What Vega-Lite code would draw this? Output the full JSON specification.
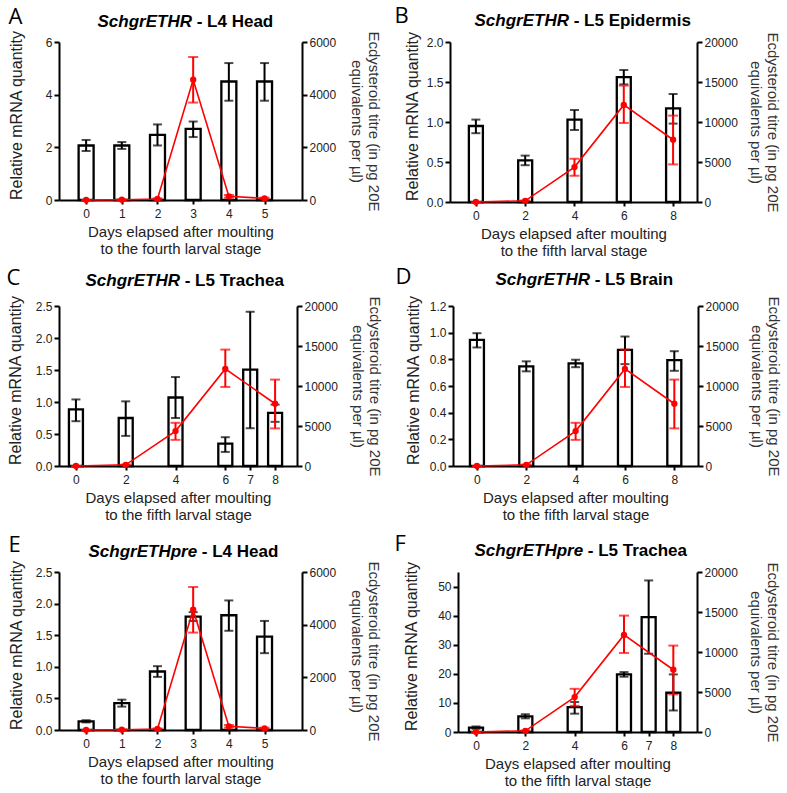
{
"$schema": "https://vega.github.io/schema/vega-lite/v6.json",
"padding": {"left": 6, "top": 4, "right": 5, "bottom": 0},
"config": {
 "view": {"stroke": null},
 "font": "Liberation Sans",
 "axis": {"grid": false, "domainColor": "black", "domainWidth": 2, "tickColor": "black", "tickWidth": 2, "labelFont": "Liberation Sans", "labelFontSize": 12, "labelColor": "#222", "titleFont": "Liberation Sans", "titleFontSize": 15, "titleFontWeight": "normal", "titleColor": "#222", "labelFlush": false, "labelOverlap": false},
 "axisX": {"tickSize": 4, "labelPadding": 4, "labelAngle": 0},
 "axisY": {"tickSize": 5, "labelPadding": 2}
},
"datasets": {
 "mrnaA": [{"day":0,"mean":2.07,"lo":1.86,"hi":2.28},{"day":1,"mean":2.07,"lo":1.94,"hi":2.2},{"day":2,"mean":2.47,"lo":2.07,"hi":2.87},{"day":3,"mean":2.7,"lo":2.39,"hi":2.98},{"day":4,"mean":4.5,"lo":3.77,"hi":5.2},{"day":5,"mean":4.5,"lo":3.77,"hi":5.2}],
 "ecdL4": [{"day":0,"mean":0,"lo":0,"hi":0},{"day":1,"mean":10,"lo":0,"hi":20},{"day":2,"mean":40,"lo":20,"hi":60},{"day":3,"mean":4570,"lo":3700,"hi":5430},{"day":4,"mean":140,"lo":90,"hi":190},{"day":5,"mean":60,"lo":30,"hi":90}],
 "mrnaB": [{"day":0,"mean":0.95,"lo":0.86,"hi":1.03},{"day":2,"mean":0.52,"lo":0.46,"hi":0.58},{"day":4,"mean":1.03,"lo":0.9,"hi":1.15},{"day":6,"mean":1.56,"lo":1.47,"hi":1.65},{"day":8,"mean":1.17,"lo":0.98,"hi":1.35}],
 "ecdL5": [{"day":0,"mean":0,"lo":0,"hi":0},{"day":2,"mean":150,"lo":110,"hi":190},{"day":4,"mean":4370,"lo":3270,"hi":5400},{"day":6,"mean":12140,"lo":9880,"hi":14550},{"day":8,"mean":7780,"lo":4700,"hi":10800}],
 "mrnaC": [{"day":0,"mean":0.885,"lo":0.7,"hi":1.04},{"day":2,"mean":0.75,"lo":0.47,"hi":1.01},{"day":4,"mean":1.07,"lo":0.75,"hi":1.39},{"day":6,"mean":0.35,"lo":0.22,"hi":0.45},{"day":7,"mean":1.505,"lo":0.59,"hi":2.41},{"day":8,"mean":0.83,"lo":0.69,"hi":0.96}],
 "mrnaD": [{"day":0,"mean":0.946,"lo":0.889,"hi":0.996},{"day":2,"mean":0.747,"lo":0.71,"hi":0.785},{"day":4,"mean":0.769,"lo":0.741,"hi":0.797},{"day":6,"mean":0.871,"lo":0.764,"hi":0.971},{"day":8,"mean":0.794,"lo":0.714,"hi":0.861}],
 "mrnaE": [{"day":0,"mean":0.137,"lo":0.12,"hi":0.155},{"day":1,"mean":0.426,"lo":0.37,"hi":0.48},{"day":2,"mean":0.926,"lo":0.84,"hi":1.01},{"day":3,"mean":1.795,"lo":1.725,"hi":1.865},{"day":4,"mean":1.816,"lo":1.57,"hi":2.05},{"day":5,"mean":1.479,"lo":1.216,"hi":1.726}],
 "mrnaF": [{"day":0,"mean":1.49,"lo":1.1,"hi":1.9},{"day":2,"mean":5.38,"lo":4.7,"hi":6.1},{"day":4,"mean":8.58,"lo":6.3,"hi":10.3},{"day":6,"mean":19.8,"lo":19.0,"hi":20.6},{"day":7,"mean":39.5,"lo":26.9,"hi":52.1},{"day":8,"mean":13.5,"lo":7.4,"hi":19.8}]
},
"spacing": 7,
"vconcat": [
{"spacing": 14, "hconcat": [
 {"width": 243, "height": 158,
  "resolve": {"scale": {"y": "independent"}, "axis": {"x": "independent", "y": "independent"}},
  "layer": [
   {"data": {"name": "mrnaA"}, "mark": {"type": "bar", "orient": "vertical", "fill": "white", "stroke": "black", "strokeWidth": 2.3, "width": 15},
    "encoding": {
     "x": {"field": "day", "type": "quantitative", "scale": {"domain": [-0.76, 6.05], "nice": false, "zero": false, "padding": 0}, "axis": {"values": [0,1,2,3,4,5], "format": "d", "title": ["Days elapsed after moulting", "to the fourth larval stage"], "titleY": 36, "titleBaseline": "alphabetic", "titleLineHeight": 17}},
     "y": {"field": "mean", "type": "quantitative", "scale": {"domain": [0, 6], "nice": false}, "axis": {"orient": "left", "values": [0,2,4,6], "format": "d", "title": "Relative mRNA quantity", "titleFontSize": 16, "titleX": -38, "titleY": 73, "titleBaseline": "alphabetic", "titleAngle": -90, "titleAlign": "center"}}}},
   {"data": {"name": "mrnaA"}, "mark": {"type": "rule", "color": "black", "strokeWidth": 2},
    "encoding": {
     "x": {"field": "day", "type": "quantitative", "scale": {"domain": [-0.76, 6.05], "nice": false, "zero": false, "padding": 0}, "axis": {"orient": "top", "domain": false, "ticks": false, "labels": false, "title": "A", "titleX": -51, "titleY": -19, "titleAlign": "left", "titleBaseline": "alphabetic", "titleFont": "Open Sans", "titleFontSize": 22, "titleColor": "black"}},
     "y": {"field": "lo", "type": "quantitative", "scale": {"domain": [0, 6], "nice": false}, "axis": null},
     "y2": {"field": "hi"}}},
   {"data": {"name": "mrnaA"}, "mark": {"type": "tick", "orient": "horizontal", "color": "black", "thickness": 2, "size": 9},
    "encoding": {"x": {"field": "day", "type": "quantitative", "scale": {"domain": [-0.76, 6.05], "nice": false, "zero": false, "padding": 0}, "axis": null}, "y": {"field": "hi", "type": "quantitative", "scale": {"domain": [0, 6], "nice": false}, "axis": null}}},
   {"data": {"name": "mrnaA"}, "mark": {"type": "tick", "orient": "horizontal", "color": "black", "thickness": 2, "size": 9},
    "encoding": {"x": {"field": "day", "type": "quantitative", "scale": {"domain": [-0.76, 6.05], "nice": false, "zero": false, "padding": 0}, "axis": null}, "y": {"field": "lo", "type": "quantitative", "scale": {"domain": [0, 6], "nice": false}, "axis": null}}},
   {"data": {"name": "ecdL4"}, "mark": {"type": "line", "color": "#ff0000", "strokeWidth": 1.6},
    "encoding": {
     "x": {"field": "day", "type": "quantitative", "scale": {"domain": [-0.76, 6.05], "nice": false, "zero": false, "padding": 0}, "axis": {"orient": "top", "domain": false, "ticks": false, "labels": false, "title": "SchgrETHR", "titleX": 38, "titleY": -16, "titleAlign": "left", "titleBaseline": "alphabetic", "titleFontSize": 17, "titleFontWeight": "bold", "titleFontStyle": "italic", "titleColor": "black"}},
     "y": {"field": "mean", "type": "quantitative", "scale": {"domain": [0, 6000], "nice": false}, "axis": {"orient": "right", "values": [0,2000,4000,6000], "format": "d", "title": ["Ecdysteroid titre (in pg 20E", "equivalents per µl)"], "titleX": 66, "titleBaseline": "alphabetic", "titleAngle": 90, "titleLineHeight": 17, "titleColor": "#333"}}}},
   {"data": {"name": "ecdL4"}, "mark": {"type": "circle", "color": "#ff0000", "size": 40, "opacity": 1},
    "encoding": {
     "x": {"field": "day", "type": "quantitative", "scale": {"domain": [-0.76, 6.05], "nice": false, "zero": false, "padding": 0}, "axis": {"orient": "top", "domain": false, "ticks": false, "labels": false, "title": "- L4 Head", "titleX": 137.2, "titleY": -16, "titleAlign": "left", "titleBaseline": "alphabetic", "titleFontSize": 17, "titleFontWeight": "bold", "titleColor": "black"}},
     "y": {"field": "mean", "type": "quantitative", "scale": {"domain": [0, 6000], "nice": false}, "axis": null}}},
   {"data": {"name": "ecdL4"}, "mark": {"type": "rule", "color": "#ff0000", "strokeWidth": 2},
    "encoding": {"x": {"field": "day", "type": "quantitative", "scale": {"domain": [-0.76, 6.05], "nice": false, "zero": false, "padding": 0}, "axis": null}, "y": {"field": "lo", "type": "quantitative", "scale": {"domain": [0, 6000], "nice": false}, "axis": null}, "y2": {"field": "hi"}}},
   {"data": {"name": "ecdL4"}, "mark": {"type": "tick", "orient": "horizontal", "color": "#ff0000", "thickness": 2, "size": 10},
    "encoding": {"x": {"field": "day", "type": "quantitative", "scale": {"domain": [-0.76, 6.05], "nice": false, "zero": false, "padding": 0}, "axis": null}, "y": {"field": "hi", "type": "quantitative", "scale": {"domain": [0, 6000], "nice": false}, "axis": null}}},
   {"data": {"name": "ecdL4"}, "mark": {"type": "tick", "orient": "horizontal", "color": "#ff0000", "thickness": 2, "size": 10},
    "encoding": {"x": {"field": "day", "type": "quantitative", "scale": {"domain": [-0.76, 6.05], "nice": false, "zero": false, "padding": 0}, "axis": null}, "y": {"field": "lo", "type": "quantitative", "scale": {"domain": [0, 6000], "nice": false}, "axis": null}}}
  ]},
 {"width": 247, "height": 160,
  "resolve": {"scale": {"y": "independent"}, "axis": {"x": "independent", "y": "independent"}},
  "layer": [
   {"data": {"name": "mrnaB"}, "mark": {"type": "bar", "orient": "vertical", "fill": "white", "stroke": "black", "strokeWidth": 2.3, "width": 14},
    "encoding": {
     "x": {"field": "day", "type": "quantitative", "scale": {"domain": [-1.05, 8.97], "nice": false, "zero": false, "padding": 0}, "axis": {"values": [0,2,4,6,8], "format": "d", "title": ["Days elapsed after moulting", "to the fifth larval stage"], "titleY": 36, "titleBaseline": "alphabetic", "titleLineHeight": 17}},
     "y": {"field": "mean", "type": "quantitative", "scale": {"domain": [0, 2], "nice": false}, "axis": {"orient": "left", "values": [0,0.5,1,1.5,2], "format": ".1f", "title": "Relative mRNA quantity", "titleFontSize": 16, "titleX": -33, "titleY": 74, "titleBaseline": "alphabetic", "titleAngle": -90, "titleAlign": "center"}}}},
   {"data": {"name": "mrnaB"}, "mark": {"type": "rule", "color": "black", "strokeWidth": 2},
    "encoding": {
     "x": {"field": "day", "type": "quantitative", "scale": {"domain": [-1.05, 8.97], "nice": false, "zero": false, "padding": 0}, "axis": {"orient": "top", "domain": false, "ticks": false, "labels": false, "title": "B", "titleX": -56, "titleY": -20, "titleAlign": "left", "titleBaseline": "alphabetic", "titleFont": "Open Sans", "titleFontSize": 22, "titleColor": "black"}},
     "y": {"field": "lo", "type": "quantitative", "scale": {"domain": [0, 2], "nice": false}, "axis": null},
     "y2": {"field": "hi"}}},
   {"data": {"name": "mrnaB"}, "mark": {"type": "tick", "orient": "horizontal", "color": "black", "thickness": 2, "size": 9},
    "encoding": {"x": {"field": "day", "type": "quantitative", "scale": {"domain": [-1.05, 8.97], "nice": false, "zero": false, "padding": 0}, "axis": null}, "y": {"field": "hi", "type": "quantitative", "scale": {"domain": [0, 2], "nice": false}, "axis": null}}},
   {"data": {"name": "mrnaB"}, "mark": {"type": "tick", "orient": "horizontal", "color": "black", "thickness": 2, "size": 9},
    "encoding": {"x": {"field": "day", "type": "quantitative", "scale": {"domain": [-1.05, 8.97], "nice": false, "zero": false, "padding": 0}, "axis": null}, "y": {"field": "lo", "type": "quantitative", "scale": {"domain": [0, 2], "nice": false}, "axis": null}}},
   {"data": {"name": "ecdL5"}, "mark": {"type": "line", "color": "#ff0000", "strokeWidth": 1.6},
    "encoding": {
     "x": {"field": "day", "type": "quantitative", "scale": {"domain": [-1.05, 8.97], "nice": false, "zero": false, "padding": 0}, "axis": {"orient": "top", "domain": false, "ticks": false, "labels": false, "title": "SchgrETHR", "titleX": 24, "titleY": -17, "titleAlign": "left", "titleBaseline": "alphabetic", "titleFontSize": 17, "titleFontWeight": "bold", "titleFontStyle": "italic", "titleColor": "black"}},
     "y": {"field": "mean", "type": "quantitative", "scale": {"domain": [0, 20000], "nice": false}, "axis": {"orient": "right", "values": [0,5000,10000,15000,20000], "format": "d", "title": ["Ecdysteroid titre (in pg 20E", "equivalents per µl)"], "titleX": 70, "titleBaseline": "alphabetic", "titleAngle": 90, "titleLineHeight": 17, "titleColor": "#333"}}}},
   {"data": {"name": "ecdL5"}, "mark": {"type": "circle", "color": "#ff0000", "size": 40, "opacity": 1},
    "encoding": {
     "x": {"field": "day", "type": "quantitative", "scale": {"domain": [-1.05, 8.97], "nice": false, "zero": false, "padding": 0}, "axis": {"orient": "top", "domain": false, "ticks": false, "labels": false, "title": "- L5 Epidermis", "titleX": 123.2, "titleY": -17, "titleAlign": "left", "titleBaseline": "alphabetic", "titleFontSize": 17, "titleFontWeight": "bold", "titleColor": "black"}},
     "y": {"field": "mean", "type": "quantitative", "scale": {"domain": [0, 20000], "nice": false}, "axis": null}}},
   {"data": {"name": "ecdL5"}, "mark": {"type": "rule", "color": "#ff0000", "strokeWidth": 2},
    "encoding": {"x": {"field": "day", "type": "quantitative", "scale": {"domain": [-1.05, 8.97], "nice": false, "zero": false, "padding": 0}, "axis": null}, "y": {"field": "lo", "type": "quantitative", "scale": {"domain": [0, 20000], "nice": false}, "axis": null}, "y2": {"field": "hi"}}},
   {"data": {"name": "ecdL5"}, "mark": {"type": "tick", "orient": "horizontal", "color": "#ff0000", "thickness": 2, "size": 10},
    "encoding": {"x": {"field": "day", "type": "quantitative", "scale": {"domain": [-1.05, 8.97], "nice": false, "zero": false, "padding": 0}, "axis": null}, "y": {"field": "hi", "type": "quantitative", "scale": {"domain": [0, 20000], "nice": false}, "axis": null}}},
   {"data": {"name": "ecdL5"}, "mark": {"type": "tick", "orient": "horizontal", "color": "#ff0000", "thickness": 2, "size": 10},
    "encoding": {"x": {"field": "day", "type": "quantitative", "scale": {"domain": [-1.05, 8.97], "nice": false, "zero": false, "padding": 0}, "axis": null}, "y": {"field": "lo", "type": "quantitative", "scale": {"domain": [0, 20000], "nice": false}, "axis": null}}}
  ]}
]},
{"spacing": 10, "vconcat": [
{"spacing": 14, "hconcat": [
 {"width": 238, "height": 160,
  "resolve": {"scale": {"y": "independent"}, "axis": {"x": "independent", "y": "independent"}},
  "layer": [
   {"data": {"name": "mrnaC"}, "mark": {"type": "bar", "orient": "vertical", "fill": "white", "stroke": "black", "strokeWidth": 2.3, "width": 14},
    "encoding": {
     "x": {"field": "day", "type": "quantitative", "scale": {"domain": [-0.68, 8.88], "nice": false, "zero": false, "padding": 0}, "axis": {"values": [0,2,4,6,7,8], "format": "d", "title": ["Days elapsed after moulting", "to the fifth larval stage"], "titleY": 36, "titleBaseline": "alphabetic", "titleLineHeight": 17}},
     "y": {"field": "mean", "type": "quantitative", "scale": {"domain": [0, 2.5], "nice": false}, "axis": {"orient": "left", "values": [0,0.5,1,1.5,2,2.5], "format": ".1f", "title": "Relative mRNA quantity", "titleFontSize": 16, "titleX": -39, "titleY": 74, "titleBaseline": "alphabetic", "titleAngle": -90, "titleAlign": "center"}}}},
   {"data": {"name": "mrnaC"}, "mark": {"type": "rule", "color": "black", "strokeWidth": 2},
    "encoding": {
     "x": {"field": "day", "type": "quantitative", "scale": {"domain": [-0.68, 8.88], "nice": false, "zero": false, "padding": 0}, "axis": {"orient": "top", "domain": false, "ticks": false, "labels": false, "title": "C", "titleX": -53, "titleY": -22, "titleAlign": "left", "titleBaseline": "alphabetic", "titleFont": "Open Sans", "titleFontSize": 22, "titleColor": "black"}},
     "y": {"field": "lo", "type": "quantitative", "scale": {"domain": [0, 2.5], "nice": false}, "axis": null},
     "y2": {"field": "hi"}}},
   {"data": {"name": "mrnaC"}, "mark": {"type": "tick", "orient": "horizontal", "color": "black", "thickness": 2, "size": 9},
    "encoding": {"x": {"field": "day", "type": "quantitative", "scale": {"domain": [-0.68, 8.88], "nice": false, "zero": false, "padding": 0}, "axis": null}, "y": {"field": "hi", "type": "quantitative", "scale": {"domain": [0, 2.5], "nice": false}, "axis": null}}},
   {"data": {"name": "mrnaC"}, "mark": {"type": "tick", "orient": "horizontal", "color": "black", "thickness": 2, "size": 9},
    "encoding": {"x": {"field": "day", "type": "quantitative", "scale": {"domain": [-0.68, 8.88], "nice": false, "zero": false, "padding": 0}, "axis": null}, "y": {"field": "lo", "type": "quantitative", "scale": {"domain": [0, 2.5], "nice": false}, "axis": null}}},
   {"data": {"name": "ecdL5"}, "mark": {"type": "line", "color": "#ff0000", "strokeWidth": 1.6},
    "encoding": {
     "x": {"field": "day", "type": "quantitative", "scale": {"domain": [-0.68, 8.88], "nice": false, "zero": false, "padding": 0}, "axis": {"orient": "top", "domain": false, "ticks": false, "labels": false, "title": "SchgrETHR", "titleX": 26, "titleY": -21, "titleAlign": "left", "titleBaseline": "alphabetic", "titleFontSize": 17, "titleFontWeight": "bold", "titleFontStyle": "italic", "titleColor": "black"}},
     "y": {"field": "mean", "type": "quantitative", "scale": {"domain": [0, 20000], "nice": false}, "axis": {"orient": "right", "values": [0,5000,10000,15000,20000], "format": "d", "title": ["Ecdysteroid titre (in pg 20E", "equivalents per µl)"], "titleX": 72, "titleBaseline": "alphabetic", "titleAngle": 90, "titleLineHeight": 17, "titleColor": "#333"}}}},
   {"data": {"name": "ecdL5"}, "mark": {"type": "circle", "color": "#ff0000", "size": 40, "opacity": 1},
    "encoding": {
     "x": {"field": "day", "type": "quantitative", "scale": {"domain": [-0.68, 8.88], "nice": false, "zero": false, "padding": 0}, "axis": {"orient": "top", "domain": false, "ticks": false, "labels": false, "title": "- L5 Trachea", "titleX": 125.2, "titleY": -21, "titleAlign": "left", "titleBaseline": "alphabetic", "titleFontSize": 17, "titleFontWeight": "bold", "titleColor": "black"}},
     "y": {"field": "mean", "type": "quantitative", "scale": {"domain": [0, 20000], "nice": false}, "axis": null}}},
   {"data": {"name": "ecdL5"}, "mark": {"type": "rule", "color": "#ff0000", "strokeWidth": 2},
    "encoding": {"x": {"field": "day", "type": "quantitative", "scale": {"domain": [-0.68, 8.88], "nice": false, "zero": false, "padding": 0}, "axis": null}, "y": {"field": "lo", "type": "quantitative", "scale": {"domain": [0, 20000], "nice": false}, "axis": null}, "y2": {"field": "hi"}}},
   {"data": {"name": "ecdL5"}, "mark": {"type": "tick", "orient": "horizontal", "color": "#ff0000", "thickness": 2, "size": 10},
    "encoding": {"x": {"field": "day", "type": "quantitative", "scale": {"domain": [-0.68, 8.88], "nice": false, "zero": false, "padding": 0}, "axis": null}, "y": {"field": "hi", "type": "quantitative", "scale": {"domain": [0, 20000], "nice": false}, "axis": null}}},
   {"data": {"name": "ecdL5"}, "mark": {"type": "tick", "orient": "horizontal", "color": "#ff0000", "thickness": 2, "size": 10},
    "encoding": {"x": {"field": "day", "type": "quantitative", "scale": {"domain": [-0.68, 8.88], "nice": false, "zero": false, "padding": 0}, "axis": null}, "y": {"field": "lo", "type": "quantitative", "scale": {"domain": [0, 20000], "nice": false}, "axis": null}}}
  ]},
 {"width": 245, "height": 160,
  "resolve": {"scale": {"y": "independent"}, "axis": {"x": "independent", "y": "independent"}},
  "layer": [
   {"data": {"name": "mrnaD"}, "mark": {"type": "bar", "orient": "vertical", "fill": "white", "stroke": "black", "strokeWidth": 2.3, "width": 14},
    "encoding": {
     "x": {"field": "day", "type": "quantitative", "scale": {"domain": [-0.97, 8.96], "nice": false, "zero": false, "padding": 0}, "axis": {"values": [0,2,4,6,8], "format": "d", "title": ["Days elapsed after moulting", "to the fifth larval stage"], "titleY": 36, "titleBaseline": "alphabetic", "titleLineHeight": 17}},
     "y": {"field": "mean", "type": "quantitative", "scale": {"domain": [0, 1.2], "nice": false}, "axis": {"orient": "left", "values": [0,0.2,0.4,0.6,0.8,1,1.2], "format": ".1f", "title": "Relative mRNA quantity", "titleFontSize": 16, "titleX": -35, "titleY": 74, "titleBaseline": "alphabetic", "titleAngle": -90, "titleAlign": "center"}}}},
   {"data": {"name": "mrnaD"}, "mark": {"type": "rule", "color": "black", "strokeWidth": 2},
    "encoding": {
     "x": {"field": "day", "type": "quantitative", "scale": {"domain": [-0.97, 8.96], "nice": false, "zero": false, "padding": 0}, "axis": {"orient": "top", "domain": false, "ticks": false, "labels": false, "title": "D", "titleX": -58, "titleY": -23, "titleAlign": "left", "titleBaseline": "alphabetic", "titleFont": "Open Sans", "titleFontSize": 22, "titleColor": "black"}},
     "y": {"field": "lo", "type": "quantitative", "scale": {"domain": [0, 1.2], "nice": false}, "axis": null},
     "y2": {"field": "hi"}}},
   {"data": {"name": "mrnaD"}, "mark": {"type": "tick", "orient": "horizontal", "color": "black", "thickness": 2, "size": 9},
    "encoding": {"x": {"field": "day", "type": "quantitative", "scale": {"domain": [-0.97, 8.96], "nice": false, "zero": false, "padding": 0}, "axis": null}, "y": {"field": "hi", "type": "quantitative", "scale": {"domain": [0, 1.2], "nice": false}, "axis": null}}},
   {"data": {"name": "mrnaD"}, "mark": {"type": "tick", "orient": "horizontal", "color": "black", "thickness": 2, "size": 9},
    "encoding": {"x": {"field": "day", "type": "quantitative", "scale": {"domain": [-0.97, 8.96], "nice": false, "zero": false, "padding": 0}, "axis": null}, "y": {"field": "lo", "type": "quantitative", "scale": {"domain": [0, 1.2], "nice": false}, "axis": null}}},
   {"data": {"name": "ecdL5"}, "mark": {"type": "line", "color": "#ff0000", "strokeWidth": 1.6},
    "encoding": {
     "x": {"field": "day", "type": "quantitative", "scale": {"domain": [-0.97, 8.96], "nice": false, "zero": false, "padding": 0}, "axis": {"orient": "top", "domain": false, "ticks": false, "labels": false, "title": "SchgrETHR", "titleX": 42, "titleY": -22, "titleAlign": "left", "titleBaseline": "alphabetic", "titleFontSize": 17, "titleFontWeight": "bold", "titleFontStyle": "italic", "titleColor": "black"}},
     "y": {"field": "mean", "type": "quantitative", "scale": {"domain": [0, 20000], "nice": false}, "axis": {"orient": "right", "values": [0,5000,10000,15000,20000], "format": "d", "title": ["Ecdysteroid titre (in pg 20E", "equivalents per µl)"], "titleX": 70, "titleBaseline": "alphabetic", "titleAngle": 90, "titleLineHeight": 17, "titleColor": "#333"}}}},
   {"data": {"name": "ecdL5"}, "mark": {"type": "circle", "color": "#ff0000", "size": 40, "opacity": 1},
    "encoding": {
     "x": {"field": "day", "type": "quantitative", "scale": {"domain": [-0.97, 8.96], "nice": false, "zero": false, "padding": 0}, "axis": {"orient": "top", "domain": false, "ticks": false, "labels": false, "title": "- L5 Brain", "titleX": 141.2, "titleY": -22, "titleAlign": "left", "titleBaseline": "alphabetic", "titleFontSize": 17, "titleFontWeight": "bold", "titleColor": "black"}},
     "y": {"field": "mean", "type": "quantitative", "scale": {"domain": [0, 20000], "nice": false}, "axis": null}}},
   {"data": {"name": "ecdL5"}, "mark": {"type": "rule", "color": "#ff0000", "strokeWidth": 2},
    "encoding": {"x": {"field": "day", "type": "quantitative", "scale": {"domain": [-0.97, 8.96], "nice": false, "zero": false, "padding": 0}, "axis": null}, "y": {"field": "lo", "type": "quantitative", "scale": {"domain": [0, 20000], "nice": false}, "axis": null}, "y2": {"field": "hi"}}},
   {"data": {"name": "ecdL5"}, "mark": {"type": "tick", "orient": "horizontal", "color": "#ff0000", "thickness": 2, "size": 10},
    "encoding": {"x": {"field": "day", "type": "quantitative", "scale": {"domain": [-0.97, 8.96], "nice": false, "zero": false, "padding": 0}, "axis": null}, "y": {"field": "hi", "type": "quantitative", "scale": {"domain": [0, 20000], "nice": false}, "axis": null}}},
   {"data": {"name": "ecdL5"}, "mark": {"type": "tick", "orient": "horizontal", "color": "#ff0000", "thickness": 2, "size": 10},
    "encoding": {"x": {"field": "day", "type": "quantitative", "scale": {"domain": [-0.97, 8.96], "nice": false, "zero": false, "padding": 0}, "axis": null}, "y": {"field": "lo", "type": "quantitative", "scale": {"domain": [0, 20000], "nice": false}, "axis": null}}}
  ]}
]},
{"spacing": 14, "hconcat": [
 {"width": 243, "height": 158,
  "resolve": {"scale": {"y": "independent"}, "axis": {"x": "independent", "y": "independent"}},
  "layer": [
   {"data": {"name": "mrnaE"}, "mark": {"type": "bar", "orient": "vertical", "fill": "white", "stroke": "black", "strokeWidth": 2.3, "width": 15},
    "encoding": {
     "x": {"field": "day", "type": "quantitative", "scale": {"domain": [-0.76, 6.05], "nice": false, "zero": false, "padding": 0}, "axis": {"values": [0,1,2,3,4,5], "format": "d", "title": ["Days elapsed after moulting", "to the fourth larval stage"], "titleY": 36, "titleBaseline": "alphabetic", "titleLineHeight": 17}},
     "y": {"field": "mean", "type": "quantitative", "scale": {"domain": [0, 2.5], "nice": false}, "axis": {"orient": "left", "values": [0,0.5,1,1.5,2,2.5], "format": ".1f", "title": "Relative mRNA quantity", "titleFontSize": 16, "titleX": -38, "titleY": 73, "titleBaseline": "alphabetic", "titleAngle": -90, "titleAlign": "center"}}}},
   {"data": {"name": "mrnaE"}, "mark": {"type": "rule", "color": "black", "strokeWidth": 2},
    "encoding": {
     "x": {"field": "day", "type": "quantitative", "scale": {"domain": [-0.76, 6.05], "nice": false, "zero": false, "padding": 0}, "axis": {"orient": "top", "domain": false, "ticks": false, "labels": false, "title": "E", "titleX": -51, "titleY": -21, "titleAlign": "left", "titleBaseline": "alphabetic", "titleFont": "Open Sans", "titleFontSize": 22, "titleColor": "black"}},
     "y": {"field": "lo", "type": "quantitative", "scale": {"domain": [0, 2.5], "nice": false}, "axis": null},
     "y2": {"field": "hi"}}},
   {"data": {"name": "mrnaE"}, "mark": {"type": "tick", "orient": "horizontal", "color": "black", "thickness": 2, "size": 9},
    "encoding": {"x": {"field": "day", "type": "quantitative", "scale": {"domain": [-0.76, 6.05], "nice": false, "zero": false, "padding": 0}, "axis": null}, "y": {"field": "hi", "type": "quantitative", "scale": {"domain": [0, 2.5], "nice": false}, "axis": null}}},
   {"data": {"name": "mrnaE"}, "mark": {"type": "tick", "orient": "horizontal", "color": "black", "thickness": 2, "size": 9},
    "encoding": {"x": {"field": "day", "type": "quantitative", "scale": {"domain": [-0.76, 6.05], "nice": false, "zero": false, "padding": 0}, "axis": null}, "y": {"field": "lo", "type": "quantitative", "scale": {"domain": [0, 2.5], "nice": false}, "axis": null}}},
   {"data": {"name": "ecdL4"}, "mark": {"type": "line", "color": "#ff0000", "strokeWidth": 1.6},
    "encoding": {
     "x": {"field": "day", "type": "quantitative", "scale": {"domain": [-0.76, 6.05], "nice": false, "zero": false, "padding": 0}, "axis": {"orient": "top", "domain": false, "ticks": false, "labels": false, "title": "SchgrETHpre", "titleX": 29, "titleY": -16, "titleAlign": "left", "titleBaseline": "alphabetic", "titleFontSize": 17, "titleFontWeight": "bold", "titleFontStyle": "italic", "titleColor": "black"}},
     "y": {"field": "mean", "type": "quantitative", "scale": {"domain": [0, 6000], "nice": false}, "axis": {"orient": "right", "values": [0,2000,4000,6000], "format": "d", "title": ["Ecdysteroid titre (in pg 20E", "equivalents per µl)"], "titleX": 66, "titleBaseline": "alphabetic", "titleAngle": 90, "titleLineHeight": 17, "titleColor": "#333"}}}},
   {"data": {"name": "ecdL4"}, "mark": {"type": "circle", "color": "#ff0000", "size": 40, "opacity": 1},
    "encoding": {
     "x": {"field": "day", "type": "quantitative", "scale": {"domain": [-0.76, 6.05], "nice": false, "zero": false, "padding": 0}, "axis": {"orient": "top", "domain": false, "ticks": false, "labels": false, "title": "- L4 Head", "titleX": 142.3, "titleY": -16, "titleAlign": "left", "titleBaseline": "alphabetic", "titleFontSize": 17, "titleFontWeight": "bold", "titleColor": "black"}},
     "y": {"field": "mean", "type": "quantitative", "scale": {"domain": [0, 6000], "nice": false}, "axis": null}}},
   {"data": {"name": "ecdL4"}, "mark": {"type": "rule", "color": "#ff0000", "strokeWidth": 2},
    "encoding": {"x": {"field": "day", "type": "quantitative", "scale": {"domain": [-0.76, 6.05], "nice": false, "zero": false, "padding": 0}, "axis": null}, "y": {"field": "lo", "type": "quantitative", "scale": {"domain": [0, 6000], "nice": false}, "axis": null}, "y2": {"field": "hi"}}},
   {"data": {"name": "ecdL4"}, "mark": {"type": "tick", "orient": "horizontal", "color": "#ff0000", "thickness": 2, "size": 10},
    "encoding": {"x": {"field": "day", "type": "quantitative", "scale": {"domain": [-0.76, 6.05], "nice": false, "zero": false, "padding": 0}, "axis": null}, "y": {"field": "hi", "type": "quantitative", "scale": {"domain": [0, 6000], "nice": false}, "axis": null}}},
   {"data": {"name": "ecdL4"}, "mark": {"type": "tick", "orient": "horizontal", "color": "#ff0000", "thickness": 2, "size": 10},
    "encoding": {"x": {"field": "day", "type": "quantitative", "scale": {"domain": [-0.76, 6.05], "nice": false, "zero": false, "padding": 0}, "axis": null}, "y": {"field": "lo", "type": "quantitative", "scale": {"domain": [0, 6000], "nice": false}, "axis": null}}}
  ]},
 {"width": 239, "height": 160,
  "resolve": {"scale": {"y": "independent"}, "axis": {"x": "independent", "y": "independent"}},
  "layer": [
   {"data": {"name": "mrnaF"}, "mark": {"type": "bar", "orient": "vertical", "fill": "white", "stroke": "black", "strokeWidth": 2.3, "width": 14},
    "encoding": {
     "x": {"field": "day", "type": "quantitative", "scale": {"domain": [-0.73, 8.96], "nice": false, "zero": false, "padding": 0}, "axis": {"values": [0,2,4,6,7,8], "format": "d", "title": ["Days elapsed after moulting", "to the fifth larval stage"], "titleY": 36, "titleBaseline": "alphabetic", "titleLineHeight": 17}},
     "y": {"field": "mean", "type": "quantitative", "scale": {"domain": [0, 55], "nice": false}, "axis": {"orient": "left", "values": [0,10,20,30,40,50], "format": "d", "title": "Relative mRNA quantity", "titleFontSize": 16, "titleX": -42, "titleY": 74, "titleBaseline": "alphabetic", "titleAngle": -90, "titleAlign": "center"}}}},
   {"data": {"name": "mrnaF"}, "mark": {"type": "rule", "color": "black", "strokeWidth": 2},
    "encoding": {
     "x": {"field": "day", "type": "quantitative", "scale": {"domain": [-0.73, 8.96], "nice": false, "zero": false, "padding": 0}, "axis": {"orient": "top", "domain": false, "ticks": false, "labels": false, "title": "F", "titleX": -64, "titleY": -22, "titleAlign": "left", "titleBaseline": "alphabetic", "titleFont": "Open Sans", "titleFontSize": 22, "titleColor": "black"}},
     "y": {"field": "lo", "type": "quantitative", "scale": {"domain": [0, 55], "nice": false}, "axis": null},
     "y2": {"field": "hi"}}},
   {"data": {"name": "mrnaF"}, "mark": {"type": "tick", "orient": "horizontal", "color": "black", "thickness": 2, "size": 9},
    "encoding": {"x": {"field": "day", "type": "quantitative", "scale": {"domain": [-0.73, 8.96], "nice": false, "zero": false, "padding": 0}, "axis": null}, "y": {"field": "hi", "type": "quantitative", "scale": {"domain": [0, 55], "nice": false}, "axis": null}}},
   {"data": {"name": "mrnaF"}, "mark": {"type": "tick", "orient": "horizontal", "color": "black", "thickness": 2, "size": 9},
    "encoding": {"x": {"field": "day", "type": "quantitative", "scale": {"domain": [-0.73, 8.96], "nice": false, "zero": false, "padding": 0}, "axis": null}, "y": {"field": "lo", "type": "quantitative", "scale": {"domain": [0, 55], "nice": false}, "axis": null}}},
   {"data": {"name": "ecdL5"}, "mark": {"type": "line", "color": "#ff0000", "strokeWidth": 1.6},
    "encoding": {
     "x": {"field": "day", "type": "quantitative", "scale": {"domain": [-0.73, 8.96], "nice": false, "zero": false, "padding": 0}, "axis": {"orient": "top", "domain": false, "ticks": false, "labels": false, "title": "SchgrETHpre", "titleX": 16, "titleY": -17, "titleAlign": "left", "titleBaseline": "alphabetic", "titleFontSize": 17, "titleFontWeight": "bold", "titleFontStyle": "italic", "titleColor": "black"}},
     "y": {"field": "mean", "type": "quantitative", "scale": {"domain": [0, 20000], "nice": false}, "axis": {"orient": "right", "values": [0,5000,10000,15000,20000], "format": "d", "title": ["Ecdysteroid titre (in pg 20E", "equivalents per µl)"], "titleX": 70, "titleBaseline": "alphabetic", "titleAngle": 90, "titleLineHeight": 17, "titleColor": "#333"}}}},
   {"data": {"name": "ecdL5"}, "mark": {"type": "circle", "color": "#ff0000", "size": 40, "opacity": 1},
    "encoding": {
     "x": {"field": "day", "type": "quantitative", "scale": {"domain": [-0.73, 8.96], "nice": false, "zero": false, "padding": 0}, "axis": {"orient": "top", "domain": false, "ticks": false, "labels": false, "title": "- L5 Trachea", "titleX": 129.3, "titleY": -17, "titleAlign": "left", "titleBaseline": "alphabetic", "titleFontSize": 17, "titleFontWeight": "bold", "titleColor": "black"}},
     "y": {"field": "mean", "type": "quantitative", "scale": {"domain": [0, 20000], "nice": false}, "axis": null}}},
   {"data": {"name": "ecdL5"}, "mark": {"type": "rule", "color": "#ff0000", "strokeWidth": 2},
    "encoding": {"x": {"field": "day", "type": "quantitative", "scale": {"domain": [-0.73, 8.96], "nice": false, "zero": false, "padding": 0}, "axis": null}, "y": {"field": "lo", "type": "quantitative", "scale": {"domain": [0, 20000], "nice": false}, "axis": null}, "y2": {"field": "hi"}}},
   {"data": {"name": "ecdL5"}, "mark": {"type": "tick", "orient": "horizontal", "color": "#ff0000", "thickness": 2, "size": 10},
    "encoding": {"x": {"field": "day", "type": "quantitative", "scale": {"domain": [-0.73, 8.96], "nice": false, "zero": false, "padding": 0}, "axis": null}, "y": {"field": "hi", "type": "quantitative", "scale": {"domain": [0, 20000], "nice": false}, "axis": null}}},
   {"data": {"name": "ecdL5"}, "mark": {"type": "tick", "orient": "horizontal", "color": "#ff0000", "thickness": 2, "size": 10},
    "encoding": {"x": {"field": "day", "type": "quantitative", "scale": {"domain": [-0.73, 8.96], "nice": false, "zero": false, "padding": 0}, "axis": null}, "y": {"field": "lo", "type": "quantitative", "scale": {"domain": [0, 20000], "nice": false}, "axis": null}}}
  ]}
]}
]}
]
}
